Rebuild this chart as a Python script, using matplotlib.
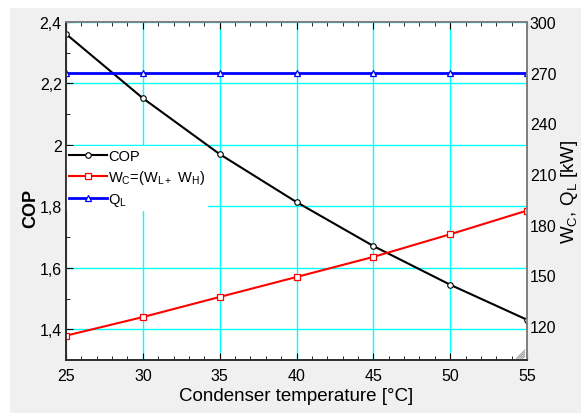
import matplotlib
matplotlib.use('Agg')
import matplotlib.pyplot as plt
from matplotlib.patches import Rectangle
from matplotlib.ticker import MultipleLocator, FuncFormatter

plt.rcParams['font.family'] = ['Liberation Sans', 'DejaVu Sans']

# condenser temperature [C]
temp = [25, 30, 35, 40, 45, 50, 55]
# coefficient of performance (left axis)
cop = [2.361, 2.152, 1.970, 1.814, 1.671, 1.545, 1.431]
# compressor work and cooling load [kW] (right axis)
w_c = [114.4, 125.4, 137.3, 149.1, 161.0, 174.4, 188.4]
q_l = [270, 270, 270, 270, 270, 270, 270]


def comma(v, pos):
    return '{:g}'.format(round(v, 2)).replace('.', ',')


fig = plt.figure(figsize=(5.81, 4.14), dpi=100)
fig.patches.append(Rectangle((10 / 581, 0), 1, 1 - 9 / 414, transform=fig.transFigure,
                             facecolor='#f0f0f0', edgecolor='none', zorder=-10))

ax = fig.add_axes([66 / 581, 1 - 361 / 414, (527 - 66) / 581, (361 - 23) / 414])
ax.set_facecolor('white')
ax2 = ax.twinx()

l1, = ax.plot(temp, cop, color='black', lw=1.5, marker='o', ms=4,
              mfc='white', mec='black', mew=0.8, label='COP', zorder=6)
l2, = ax2.plot(temp, w_c, color='#ff0000', lw=1.5, marker='s', ms=5,
               mfc='white', mec='#ff0000', mew=0.9,
               label=r'W$_\mathregular{C}$=(W$_\mathregular{L+}$ W$_\mathregular{H}$)')
l3, = ax2.plot(temp, q_l, color='#0000ff', lw=2, marker='^', ms=5,
               mfc='white', mec='#0000ff', mew=0.9, label=r'Q$_\mathregular{L}$')

ax.set_xlim(25, 55)
ax.set_ylim(1.3, 2.4)
ax2.set_ylim(100, 300)

ax.xaxis.set_major_locator(MultipleLocator(5))
ax.xaxis.set_minor_locator(MultipleLocator(1))
ax.yaxis.set_major_locator(MultipleLocator(0.2))
ax.yaxis.set_minor_locator(MultipleLocator(0.1))
ax.yaxis.set_major_formatter(FuncFormatter(comma))
ax2.yaxis.set_major_locator(MultipleLocator(30))

ax.grid(True, which='major', color='#00ffff', lw=1)
ax.set_axisbelow(True)

ax.tick_params(which='both', direction='in', top=True, labelsize=11.5, pad=6)
ax.tick_params(which='major', length=5)
ax.tick_params(which='minor', length=3)
ax.tick_params(axis='y', pad=3)
ax2.tick_params(direction='in', length=0, labelsize=11.5, pad=2)

for a in (ax, ax2):
    a.spines['left'].set_color('#303030')
    a.spines['bottom'].set_color('#303030')
    a.spines['right'].set_color('#808080')
    a.spines['top'].set_color('#808080')
    for s in a.spines.values():
        s.set_linewidth(1.3)

ax.set_xlabel('Condenser temperature [°C]', fontsize=13.5, labelpad=3)
ax.set_ylabel('COP', fontsize=13, fontweight='bold', labelpad=0, y=0.45)
ax2.set_ylabel(r'W$_\mathregular{C}$, Q$_\mathregular{L}$ [kW]', fontsize=13.5, labelpad=2)

leg = ax.legend(handles=[l1, l2, l3], loc='upper left', bbox_to_anchor=(0.0, 0.633),
                fontsize=10.5, frameon=True, facecolor='white', edgecolor='none',
                framealpha=1, fancybox=False, handlelength=2.6, handletextpad=0.1,
                borderpad=0.2, labelspacing=0.35, borderaxespad=0.0)
leg.set_zorder(5)

# resize grip in the corner
for k in range(4):
    d = 0.006 + k * 0.006
    ax2.plot([0.995 - d * 0.72, 0.995], [0.005, 0.005 + d], transform=ax2.transAxes,
             color='#a0a0a0', lw=0.8, zorder=5)

fig.savefig('out.png', dpi=100)
